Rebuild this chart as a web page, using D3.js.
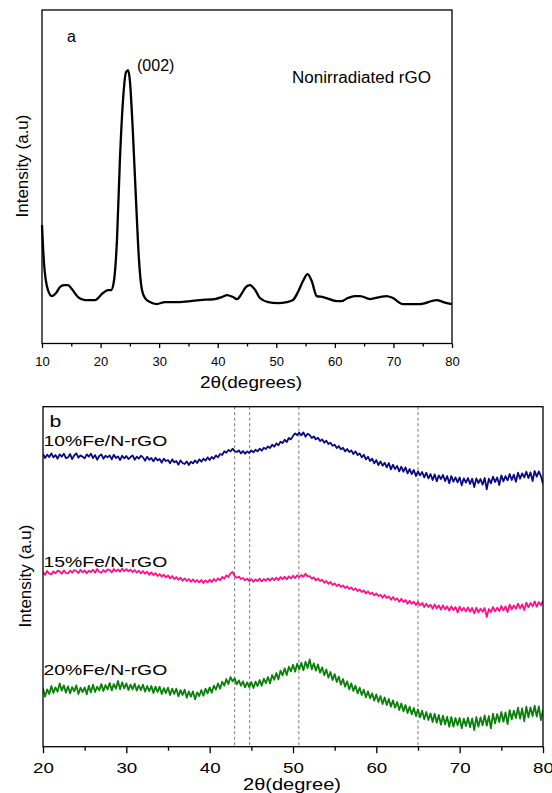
<!DOCTYPE html>
<html>
<head>
<meta charset="utf-8">
<script src="https://cdn.jsdelivr.net/npm/d3@7"></script>
<style>
  body { margin: 0; background: #fff; }
  svg { display: block; }
  text { font-family: "Liberation Sans", Arial, Helvetica, sans-serif; fill: #000; }
</style>
</head>
<body>
<svg id="chart" width="552" height="793"></svg>
<script>
// ---------- Panel a: XRD pattern of nonirradiated rGO ----------
const angleA = [10.0,10.34,11.02,11.7,12.4,13.07,13.76,14.44,15.1,16.15,17.34,19.05,20.4,21.27,21.8,22.2,22.8,23.3,23.83,24.34,24.7,25.0,25.5,26.05,26.56,27.07,27.6,28.44,29.6,31.0,33.56,37.0,39.5,40.7,41.6,42.6,43.3,44.15,44.8,45.5,46.4,47.2,48.6,50.3,51.8,52.85,53.7,54.56,55.36,56.05,56.9,58.0,60.3,61.2,62.2,63.4,64.3,66.0,67.7,68.85,69.9,71.6,74.5,77.4,78.5,80.0];
const intensityA = [354,240,159,141,150,168,174,174,162,138,129,129,150,159,159,177,309,549,729,813,819,789,639,429,249,159,135,123,117,123,123,129,132,138,144,138,132,150,168,174,159,135,123,120,123,129,153,186,207,186,141,138,126,126,135,141,141,132,138,141,135,117,117,129,123,117];
const ticksA = [10,20,30,40,50,60,70,80];
const minorTicksA = [15,25,35,45,55,65,75];

// ---------- Panel b: Fe/N-rGO samples, 20-80 deg scanned in 0.25 deg steps ----------
const scanStartB = 20, scanStepB = 0.25;
const fe10 = [
878,866,876,869, 880,868,875,864, 877,870,879,866, 868,878,863,874, 880,867,874,870,
865,877,870,879, 866,875,861,872, 877,864,873,868, 874,862,876,866, 871,860,873,865,
872,863,869,874, 861,870,864,873, 868,858,870,861, 866,856,867,859, 863,852,864,857,
860,850,862,853, 857,846,859,851, 848,856,845,855, 850,859,851,862, 855,864,858,868,
860,869,864,874, 868,878,875,886, 882,890,886,894, 887,884,889,880, 887,879,886,881,
889,883,891,886, 894,888,897,893, 901,896,906,900, 910,904,915,911, 921,914,926,922,
932,940,935,942, 934,943,930,939, 935,926,931,922, 927,917,922,912, 918,908,912,903,
906,896,902,892, 897,886,893,884, 889,878,886,875, 880,868,876,862, 870,857,864,850,
860,845,856,843, 852,838,851,832, 846,833,842,826, 840,825,838,820, 833,818,830,812,
826,814,824,808, 822,805,818,800, 817,796,814,803, 815,797,812,790, 812,795,808,793,
808,784,805,792, 806,788,804,779, 805,791,803,786, 806,772,804,790, 810,794,808,785,
814,796,812,799, 818,800,816,795, 822,804,820,808, 825,806,823,797, 827,810,826,812,
788];
const fe15 = [
524,516,527,519, 517,526,520,528, 526,519,529,521, 520,528,522,530, 527,521,531,523,
529,520,528,524, 531,522,533,525, 522,530,524,532, 530,523,533,526, 532,525,534,527,
533,526,531,524, 530,522,528,520, 527,519,525,516, 523,515,521,512, 518,510,516,508,
514,505,512,503, 509,501,507,498, 505,497,503,495, 502,494,500,493, 500,491,499,493,
501,494,503,497, 505,499,509,504, 514,509,520,524, 512,507,510,503, 506,499,504,497,
503,495,502,497, 504,496,503,498, 505,498,506,500, 507,500,509,503, 510,502,511,505,
513,506,514,509, 515,510,519,511, 512,504,508,499, 505,497,501,492, 497,489,494,485,
490,482,487,479, 484,476,481,473, 478,470,475,467, 472,464,469,460, 466,458,462,454,
460,452,456,447, 455,446,451,441, 449,440,445,435, 444,434,440,429, 438,429,435,425,
434,424,431,419, 429,419,426,414, 427,415,424,411, 424,412,421,408, 421,410,419,403,
420,408,417,406, 418,405,416,400, 417,403,414,405, 416,389,413,404, 419,406,417,407,
422,409,421,404, 426,412,424,414, 429,415,427,410, 432,418,431,421, 436,420,434,424,
438];
const fe20 = [
175,150,172,158, 182,161,178,165, 190,168,184,162, 181,160,179,166, 184,158,177,164,
178,157,183,163, 186,164,180,169, 188,167,185,172, 191,169,188,174, 197,172,193,175,
190,170,186,172, 189,168,184,170, 186,165,182,167, 182,161,180,164, 180,158,176,161,
177,155,174,158, 174,151,170,155, 171,147,166,150, 166,142,163,152, 170,153,174,160,
178,162,183,171, 190,174,195,183, 203,188,209,196, 205,187,199,183, 196,178,193,179,
194,176,195,182, 200,183,204,191, 209,190,215,201, 221,202,228,214, 235,215,240,226,
246,225,249,232, 252,229,255,236, 262,232,250,228, 247,222,238,214, 232,207,224,200,
218,194,210,186, 203,180,196,172, 190,167,183,160, 177,155,171,148, 166,145,160,138,
157,134,152,128, 148,125,143,120, 139,117,134,110, 130,106,125,101, 120,97,116,92,
112,88,108,82, 104,80,100,74, 99,72,95,66, 93,67,90,60, 89,60,86,64,
86,55,84,62, 87,58,85,50, 89,60,88,64, 94,63,92,55, 99,70,98,74,
104,75,103,68, 110,82,108,86, 117,84,115,76, 120,88,118,92, 123,90,121,80,
110];
const seriesNamesB = ["10%Fe/N-rGO", "15%Fe/N-rGO", "20%Fe/N-rGO"];
const refAnglesB = [43.0, 44.8, 50.7, 65.0];
const ticksB = [20,30,40,50,60,70,80];
const minorTicksB = [25,35,45,55,65,75];

// ---------- drawing ----------
const svg = d3.select("#chart");
const font = "\"Liberation Sans\", Arial, Helvetica, sans-serif";

/* ===== panel a ===== */
const ax = d3.scaleLinear().domain([10, 80]).range([42, 452]);
const ay = d3.scaleLinear().domain([0, 1000]).range([343, 10]);
const gA = svg.append("g");

const minorA = d3.axisBottom(ax).tickValues(minorTicksA).tickSize(3).tickFormat("");
gA.append("g").attr("transform", "translate(0,343.5)").call(minorA)
  .call(g => g.select(".domain").remove());
const majorA = d3.axisBottom(ax).tickValues(ticksA).tickSize(4.5).tickFormat(d3.format("d"));
gA.append("g").attr("transform", "translate(0,343.5)").call(majorA)
  .call(g => g.select(".domain").remove())
  .call(g => g.selectAll("text").attr("y", 13).attr("dy", "0.71em")
    .attr("font-size", 13).attr("font-family", font).attr("fill", "#000"));
gA.selectAll(".tick line").attr("stroke", "#000").attr("stroke-width", 1.3);

gA.append("path")
  .datum(angleA.map((a, i) => [a, intensityA[i]]))
  .attr("fill", "none").attr("stroke", "#000").attr("stroke-width", 2.3)
  .attr("stroke-linejoin", "round")
  .attr("d", d3.line().x(d => ax(d[0])).y(d => ay(d[1])).curve(d3.curveMonotoneX));

gA.append("rect").attr("x", 42).attr("y", 10).attr("width", 410).attr("height", 333.5)
  .attr("fill", "none").attr("stroke", "#000").attr("stroke-width", 1.3);

gA.append("text").attr("x", 67).attr("y", 42).attr("font-size", 16).text("a");
gA.append("text").attr("x", 137).attr("y", 71).attr("font-size", 16).text("(002)");
gA.append("text").attr("x", 292).attr("y", 83).attr("font-size", 16)
  .attr("textLength", 139).attr("lengthAdjust", "spacingAndGlyphs").text("Nonirradiated rGO");
gA.append("text").attr("x", 251).attr("y", 388).attr("text-anchor", "middle")
  .attr("font-size", 16).attr("textLength", 102).attr("lengthAdjust", "spacingAndGlyphs")
  .text("2θ(degrees)");
gA.append("text").attr("transform", "translate(28,166) rotate(-90)")
  .attr("text-anchor", "middle").attr("font-size", 17).text("Intensity (a.u)");

/* ===== panel b ===== */
const bx = d3.scaleLinear().domain([20, 80]).range([43, 543]);
const by = d3.scaleLinear().domain([0, 1020]).range([746.7, 406.7]);
const gB = svg.append("g");
const stretch = 1.25;

svg.append("defs").append("clipPath").attr("id", "clipB")
  .append("rect").attr("x", 43).attr("y", 406.7).attr("width", 500).attr("height", 340);

const minorB = d3.axisBottom(bx).tickValues(minorTicksB).tickSize(4).tickFormat("");
gB.append("g").attr("transform", "translate(0,746.7)").call(minorB)
  .call(g => g.select(".domain").remove());
const majorB = d3.axisBottom(bx).tickValues(ticksB).tickSize(6.5).tickFormat(d3.format("d"));
gB.append("g").attr("transform", "translate(0,746.7)").call(majorB)
  .call(g => g.select(".domain").remove())
  .call(g => g.selectAll("text").attr("y", 26.5).attr("dy", null)
    .attr("transform", `scale(${stretch},1)`)
    .attr("font-size", 15).attr("font-family", font).attr("fill", "#000"));
gB.selectAll(".tick line").attr("stroke", "#000").attr("stroke-width", 1.3);

// reference positions
gB.selectAll("line.ref").data(refAnglesB).join("line").attr("class", "ref")
  .attr("x1", d => bx(d)).attr("x2", d => bx(d))
  .attr("y1", 406.7).attr("y2", 746.7)
  .attr("stroke", "#777").attr("stroke-width", 1).attr("stroke-dasharray", "3,2.5");

const seriesB = [fe10, fe15, fe20];
const seriesColorsB = ["#0a0a82", "#ff0f8c", "#0a800a"];
const lineB = d3.line()
  .x((d, i) => bx(scanStartB + i * scanStepB))
  .y(d => by(d));
gB.append("g").attr("clip-path", "url(#clipB)")
  .selectAll("path").data(seriesB).join("path")
  .attr("fill", "none")
  .attr("stroke", (d, i) => seriesColorsB[i])
  .attr("stroke-width", 1.8)
  .attr("stroke-linejoin", "round")
  .attr("d", lineB);

gB.append("rect").attr("x", 43).attr("y", 406.7).attr("width", 500).attr("height", 340)
  .attr("fill", "none").attr("stroke", "#000").attr("stroke-width", 1.3);

function stretchedText(x, y, str, size, anchor) {
  return gB.append("text")
    .attr("transform", `translate(${x},${y}) scale(${stretch},1)`)
    .attr("text-anchor", anchor).attr("font-size", size).text(str);
}
stretchedText(49.5, 426.5, "b", 17, "start");
const labelBaselines = [446, 566.5, 675];
seriesNamesB.forEach((name, i) => stretchedText(43.5, labelBaselines[i], name, 15.5, "start"));
stretchedText(292, 790, "2θ(degree)", 16, "middle");
gB.append("text").attr("transform", "translate(31,576) rotate(-90)")
  .attr("text-anchor", "middle").attr("font-size", 17).text("Intensity (a.u)");
</script>
</body>
</html>
